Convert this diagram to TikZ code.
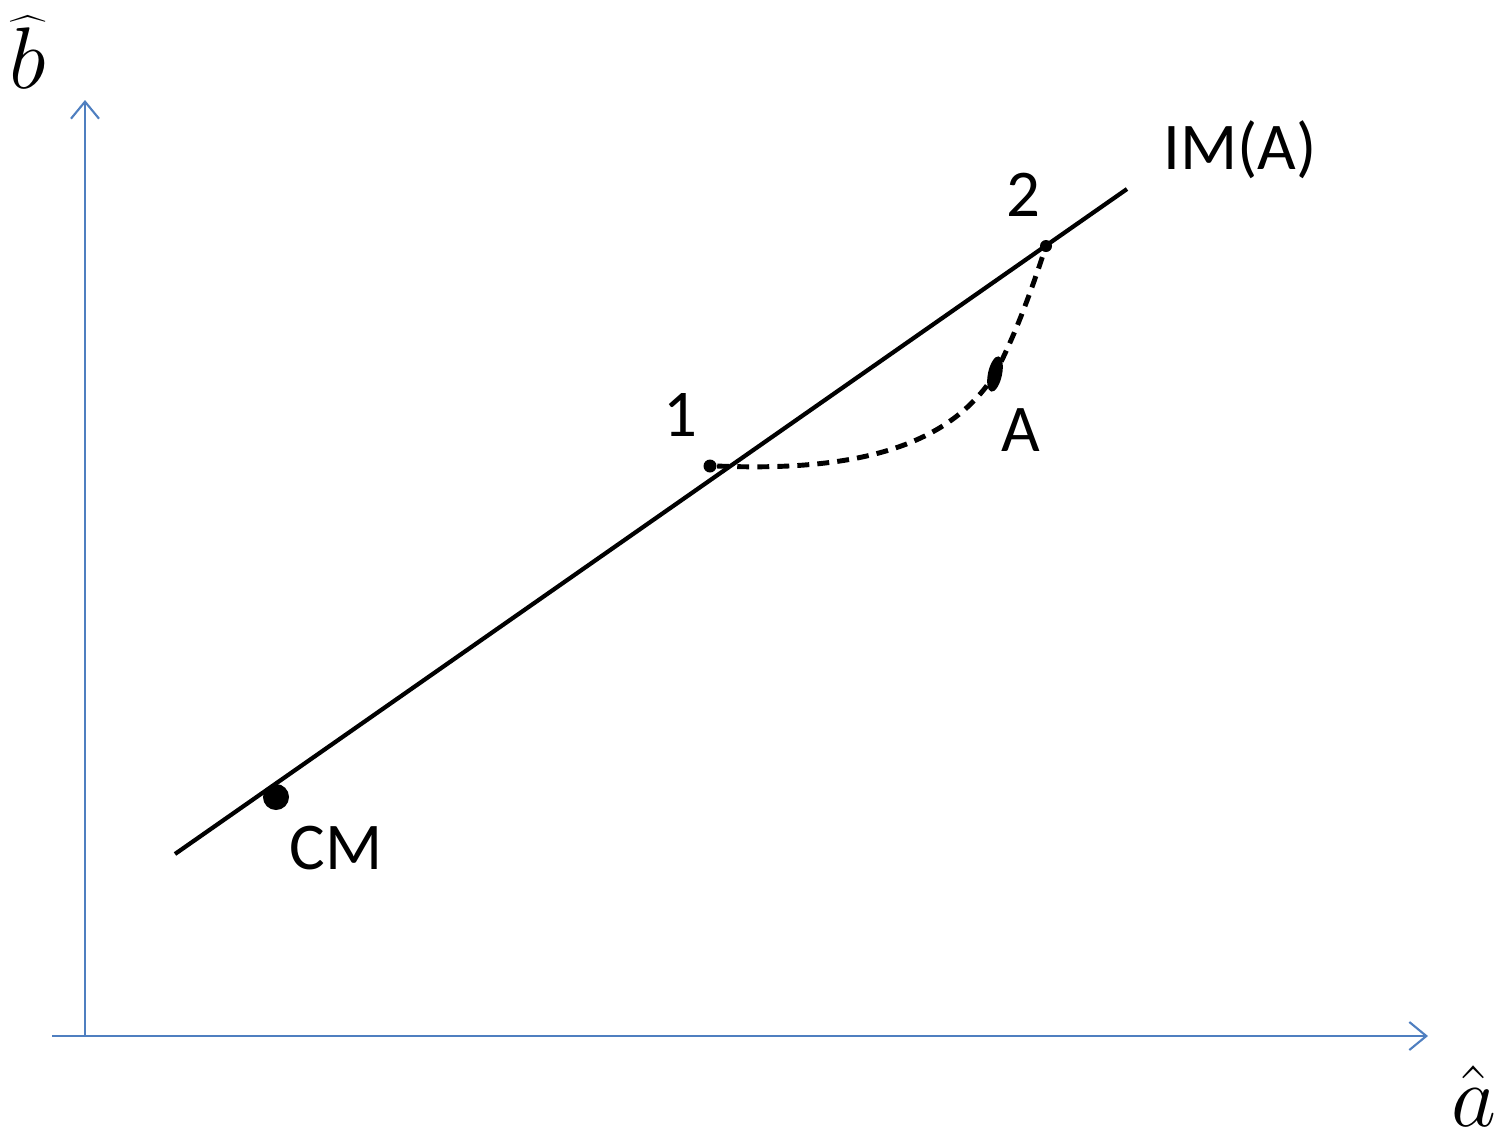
\documentclass[tikz,border=0pt]{standalone}
\usepackage{fontspec}
\setmainfont{Carlito}
\usepackage{tikz}
\usetikzlibrary{arrows.meta,shapes.geometric}
\definecolor{axisBlue}{HTML}{4F7FC0}

\begin{document}
\begin{tikzpicture}[x=0.01cm,y=-0.01cm,font=\fontsize{19}{22}\selectfont,
  axis/.style={draw=axisBlue,line width=0.6pt,-{Straight Barb[length=1.7mm,width=2.8mm]}},
  imline/.style={line width=1.2pt},
  path/.style={line width=1.4pt,dash pattern=on 3.4pt off 2.3pt},
  pt/.style={circle,fill,inner sep=0pt,minimum size=#1},
  axlabel/.style={font=\fontsize{26}{26}\selectfont,inner sep=1pt}]
\useasboundingbox (0,0) rectangle (1499,1132);
% axes
\coordinate (o) at (85,1036);
\coordinate (xl) at (52,1036);
\coordinate (xr) at (1428,1036);
\coordinate (yt) at (85,100);
\draw[axis] (xl) -- (xr);
\draw[axis] (o) -- (yt);
\node[axlabel] (bhat) at (28,52) {$\widehat{b}$};
\node[axlabel] (ahat) at (1474,1096) {$\hat{a}$};
% IM(A) line
\coordinate (s) at (175,854);
\coordinate (e) at (1127,189);
\draw[imline] (s) -- (e);
\node (im) at (1240,150) {IM(A)};
% points
\node[pt=0.26cm] (cm) at (276,797) {};
\node[pt=0.13cm] (p1) at (710,466) {};
\node[pt=0.12cm] (p2) at (1046,246) {};
\node[ellipse,fill,inner sep=0pt,minimum width=0.14cm,minimum height=0.36cm,rotate=-12] (a) at (995,374) {};
\node (l1) at (680,415) {1};
\node (l2) at (1023,195) {2};
\node (la) at (1021,430) {A};
\node (lcm) at (336,848) {CM};
% adjustment path 1 -> A -> 2
\draw[path] (p1.east) .. controls (860,472) and (950,445) .. (a.center)
  .. controls (1015,335) and (1030,295) .. (p2.center);
\end{tikzpicture}
\end{document}
